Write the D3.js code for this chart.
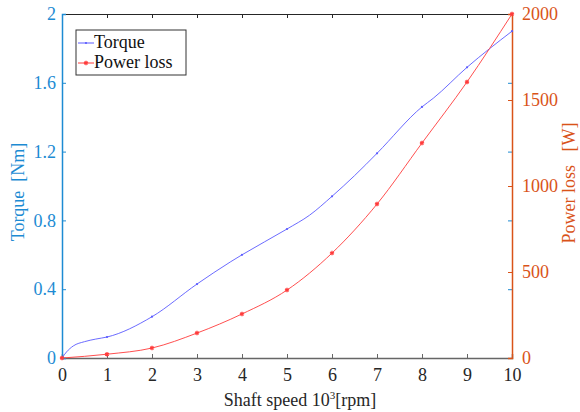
<!DOCTYPE html>
<html>
<head>
<meta charset="utf-8">
<script src="https://cdn.jsdelivr.net/npm/d3@7"></script>
<style>
  body { margin: 0; background: #fff; }
  text { font-family: "Liberation Serif", "Times New Roman", serif; }
</style>
</head>
<body>
<div id="chart"></div>
<script>
// data
const speeds = [0, 0.1, 0.25, 0.5, 0.75, 1, 2, 3, 3.75, 4, 5, 5.5, 6, 6.5, 7, 8, 8.25, 9, 10];
const torque = [0, 0.035, 0.07, 0.095, 0.11, 0.122, 0.24, 0.43, 0.56, 0.60, 0.75, 0.83, 0.94, 1.06, 1.19, 1.46, 1.51, 1.69, 1.90];
const lossSpeeds = [0, 1, 2, 3, 4, 5, 6, 7, 8, 9, 10];
const powerLoss = [0, 22, 58, 145, 256, 395, 610, 895, 1250, 1605, 2000];
const xTicks = [0, 1, 2, 3, 4, 5, 6, 7, 8, 9, 10];
const torqueTicks = [0, 0.4, 0.8, 1.2, 1.6, 2];
const lossTicks = [0, 500, 1000, 1500, 2000];

const width = 580, height = 412;
const m = { left: 62, right: 68, top: 14, bottom: 54 };
const blueAxis = "#1d8bd3";
const orangeAxis = "#d95319";
const torqueColor = "#5a5aff";
const lossColor = "#ff3b3b";
const fs = "18px";

const svg = d3.select("#chart").append("svg")
  .attr("width", width).attr("height", height);

const x = d3.scaleLinear().domain([0, 10]).range([m.left, width - m.right]);
const yT = d3.scaleLinear().domain([0, 2]).range([height - m.bottom, m.top]);
const yP = d3.scaleLinear().domain([0, 2000]).range([height - m.bottom, m.top]);

// top border with ticks
svg.append("g")
  .attr("transform", `translate(0,${m.top})`)
  .call(d3.axisTop(x).tickValues(xTicks).tickSize(-4).tickFormat(""))
  .call(g => g.selectAll("path,line").attr("stroke", "#262626"));

// bottom axis
svg.append("g")
  .attr("transform", `translate(0,${height - m.bottom})`)
  .call(d3.axisBottom(x).tickValues(xTicks).tickSize(-4).tickPadding(10).tickFormat(d3.format("d")))
  .call(g => g.selectAll("path,line").attr("stroke", "#666"))
  .call(g => g.select(".domain").attr("stroke-width", 1.5))
  .call(g => g.selectAll("text").attr("fill", "#262626").style("font-size", fs));

// mirrored blue ticks on the right side
svg.append("g")
  .attr("transform", `translate(${width - m.right},0)`)
  .call(d3.axisRight(yT).tickValues(torqueTicks).tickSize(-4).tickFormat(""))
  .call(g => g.select(".domain").remove())
  .call(g => g.selectAll("line").attr("stroke", blueAxis));

// left axis
svg.append("g")
  .attr("transform", `translate(${m.left},0)`)
  .call(d3.axisLeft(yT).tickValues(torqueTicks).tickSize(-4).tickPadding(6).tickFormat(d => d === 0 || d === 2 ? d : d3.format(".1f")(d)))
  .call(g => g.selectAll("path,line").attr("stroke", blueAxis))
  .call(g => g.select(".domain").attr("stroke-width", 1.5))
  .call(g => g.selectAll("text").attr("fill", blueAxis).style("font-size", fs));

// right axis
svg.append("g")
  .attr("transform", `translate(${width - m.right},0)`)
  .call(d3.axisRight(yP).tickValues(lossTicks).tickSize(-4).tickPadding(10).tickFormat(d3.format("d")))
  .call(g => g.selectAll("path,line").attr("stroke", orangeAxis))
  .call(g => g.select(".domain").attr("stroke-width", 1.5))
  .call(g => g.selectAll("text").attr("fill", orangeAxis).style("font-size", fs));

// axis titles
svg.append("text")
  .attr("transform", `translate(24,192) rotate(-90)`)
  .attr("text-anchor", "middle").attr("fill", blueAxis).style("font-size", fs)
  .attr("xml:space", "preserve")
  .text("Torque  [Nm]");

svg.append("text")
  .attr("transform", `translate(575,183) rotate(-90)`)
  .attr("text-anchor", "middle").attr("fill", orangeAxis).style("font-size", fs)
  .attr("xml:space", "preserve")
  .text("Power loss   [W]");

const xl = svg.append("text")
  .attr("x", 300).attr("y", 406)
  .attr("text-anchor", "middle").attr("fill", "#262626").style("font-size", fs);
xl.append("tspan").text("Shaft speed 10");
xl.append("tspan").attr("dy", -7).style("font-size", "11px").text("3");
xl.append("tspan").attr("dy", 7).text("[rpm]");

// torque line
const torquePts = speeds.map((s, i) => [s, torque[i]]);
svg.append("path")
  .datum(torquePts)
  .attr("fill", "none").attr("stroke", torqueColor).attr("stroke-width", 0.9)
  .attr("d", d3.line().x(d => x(d[0])).y(d => yT(d[1])).curve(d3.curveMonotoneX));

svg.selectAll(".tdot")
  .data(torquePts.filter(d => Number.isInteger(d[0])))
  .enter().append("circle")
  .attr("cx", d => x(d[0])).attr("cy", d => yT(d[1]))
  .attr("r", 1.1).attr("fill", torqueColor);

// power loss line
const lossPts = lossSpeeds.map((s, i) => [s, powerLoss[i]]);
svg.append("path")
  .datum(lossPts)
  .attr("fill", "none").attr("stroke", lossColor).attr("stroke-width", 0.9)
  .attr("d", d3.line().x(d => x(d[0])).y(d => yP(d[1])).curve(d3.curveMonotoneX));

const star = d3.symbol().type(d3.symbolAsterisk).size(14);
svg.selectAll(".pstar")
  .data(lossPts)
  .enter().append("path")
  .attr("transform", d => `translate(${x(d[0])},${yP(d[1])})`)
  .attr("d", star)
  .attr("stroke", lossColor).attr("stroke-width", 1.3).attr("fill", "none");

// legend
const lg = svg.append("g").attr("transform", "translate(76,30)");
lg.append("rect").attr("width", 110).attr("height", 45)
  .attr("fill", "#fff").attr("stroke", "#333").attr("stroke-width", 1);
const entries = [
  { name: "Torque", color: torqueColor, marker: "dot" },
  { name: "Power loss", color: lossColor, marker: "star" }
];
entries.forEach((e, i) => {
  const yy = 13 + i * 20;
  lg.append("line").attr("x1", 2).attr("x2", 18).attr("y1", yy).attr("y2", yy)
    .attr("stroke", e.color);
  if (e.marker === "dot") {
    lg.append("circle").attr("cx", 10).attr("cy", yy).attr("r", 1.1).attr("fill", e.color);
  } else {
    lg.append("path").attr("transform", `translate(10,${yy})`).attr("d", star)
      .attr("stroke", e.color).attr("stroke-width", 1.3).attr("fill", "none");
  }
  lg.append("text").attr("x", 18).attr("y", yy + 5).attr("fill", "#111")
    .style("font-size", fs).text(e.name);
});
</script>
</body>
</html>
